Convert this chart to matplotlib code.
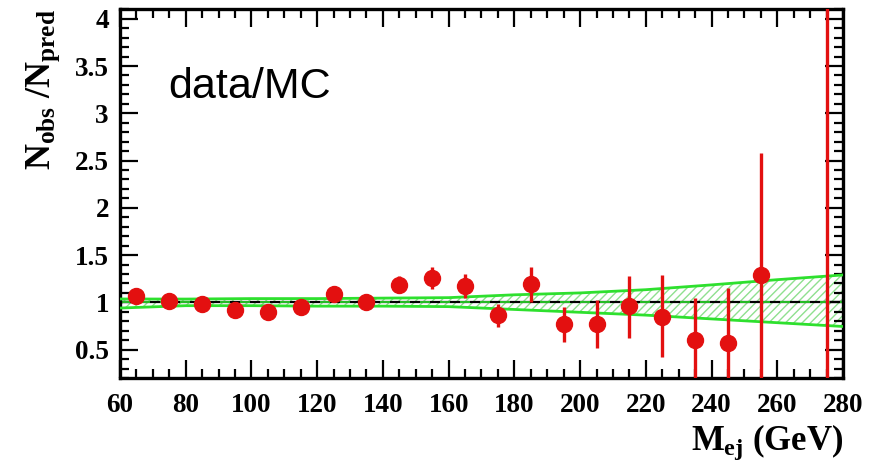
import matplotlib
matplotlib.use("Agg")
import matplotlib.pyplot as plt
import numpy as np

# ---- data ----
mass = [65, 75, 85, 95, 105, 115, 125, 135, 145, 155, 165, 175, 185, 195, 205, 215, 225, 235, 245, 255, 275]
ratio = [1.063, 1.01, 0.986, 0.92, 0.90, 0.947, 1.09, 1.007, 1.187, 1.258, 1.177, 0.87, 1.19, 0.77, 0.77, 0.965, 0.85, 0.606, 0.57, 1.285, 0.0]
err_up = [0.04, 0.03, 0.03, 0.03, 0.03, 0.04, 0.05, 0.04, 0.09, 0.116, 0.123, 0.116, 0.184, 0.18, 0.25, 0.315, 0.44, 0.444, 0.58, 1.295, 5.0]
err_dn = [0.04, 0.03, 0.03, 0.03, 0.03, 0.04, 0.05, 0.04, 0.087, 0.118, 0.127, 0.13, 0.19, 0.19, 0.25, 0.345, 0.43, 0.6, 0.6, 1.3, 0.0]

band_x = [60, 80, 100, 120, 140, 160, 180, 200, 220, 240, 260, 280]
band_hi = [1.036, 1.035, 1.04, 1.04, 1.045, 1.05, 1.08, 1.10, 1.134, 1.185, 1.24, 1.29]
band_lo = [0.94, 0.965, 0.965, 0.96, 0.96, 0.955, 0.925, 0.895, 0.865, 0.825, 0.785, 0.745]

xticks = [60, 80, 100, 120, 140, 160, 180, 200, 220, 240, 260, 280]
yticks = [0.5, 1, 1.5, 2, 2.5, 3, 3.5, 4]
ytick_labels = ["0.5", "1", "1.5", "2", "2.5", "3", "3.5", "4"]

# ---- style ----
plt.rcParams['mathtext.fontset'] = 'custom'
plt.rcParams['mathtext.rm'] = 'Liberation Serif:bold'
plt.rcParams['mathtext.it'] = 'Liberation Serif:bold'
plt.rcParams['mathtext.bf'] = 'Liberation Serif:bold'

red = '#e31010'
green = '#2ee02e'

fig = plt.figure(figsize=(8.78, 4.69), dpi=100)
ax = fig.add_axes([120/878, 1 - 378/469, (843-120)/878, (378-9.3)/469])

# band
ax.fill_between(band_x, band_lo, band_hi, facecolor='none', edgecolor='#8fe08f',
                hatch='////', linewidth=0, zorder=1)
ax.axhline(1.0, color='black', lw=1.6, zorder=2)
ax.plot([60, 280], [1, 1], color=green, lw=1.2, ls=(0, (6, 6)), zorder=2.5)
ax.plot(band_x, band_hi, color=green, lw=2.0, zorder=3)
ax.plot(band_x, band_lo, color=green, lw=2.0, zorder=3)

# data
ax.errorbar(mass, ratio, yerr=[err_dn, err_up], fmt='o', color=red, ms=11.5,
            elinewidth=2.4, capsize=0, zorder=5, clip_on=True)

ax.set_xlim(60, 280)
ax.set_ylim(0.2, 4.1)

ax.set_xticks(xticks)
ax.set_xticks(np.arange(60, 281, 5), minor=True)
ax.set_yticks(yticks)
ax.set_yticklabels(ytick_labels)
ax.set_yticks(np.arange(0.2, 4.101, 0.1), minor=True)

ax.tick_params(which='both', direction='in', top=True, right=True, width=1.6)
ax.tick_params(which='major', length=13, pad=8)
ax.tick_params(which='minor', length=6.5)
ax.tick_params(axis='x', which='major', pad=11)
for lab in ax.get_xticklabels() + ax.get_yticklabels():
    lab.set_fontfamily('Liberation Serif')
    lab.set_fontweight('bold')
    lab.set_fontsize(19.5)

for s in ax.spines.values():
    s.set_linewidth(2.4)

ax.set_xlabel(r'$M_{ej}$ (GeV)', fontsize=25, fontfamily='Liberation Serif',
              fontweight='bold', loc='right', labelpad=3)
ax.set_ylabel(r'$N_{obs}$ /$N_{pred}$', fontsize=26, fontfamily='Liberation Serif',
              fontweight='bold', loc='top', labelpad=9)

ax.text(74.6, 3.16, 'data/MC', fontsize=31, fontfamily='Liberation Sans',
        color='black', ha='left', va='baseline')

fig.savefig('out.png', dpi=100)
